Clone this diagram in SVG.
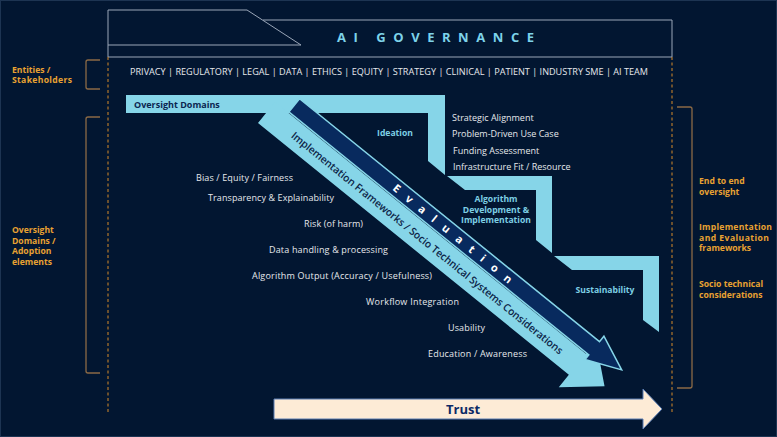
<svg xmlns="http://www.w3.org/2000/svg" width="777" height="437" viewBox="0 0 777 437">
<style>
.bg{fill:#021631;stroke:#1d3452;stroke-width:1}
.hdr{fill:none;stroke:#9aa6b8;stroke-width:1}
.dash{fill:none;stroke:#d68a2a;stroke-width:1;stroke-dasharray:3 2.5}
.brk{fill:none;stroke:#8c6a45;stroke-width:1.3}
.lbl{font-family:"Open Sans","Noto Sans",sans-serif;font-weight:700;font-size:8.6px;fill:#e9a232}
.wt{font-family:"Open Sans","Noto Sans",sans-serif;font-size:9px;fill:#e6e8ec}
.sl{font-family:"Open Sans","Noto Sans",sans-serif;font-weight:700;font-size:8.6px;fill:#7dcfe4}
.lb{fill:#86d5e8}
.dk{fill:#082a5e;stroke:#86d5e8;stroke-width:1.5}
</style>
<rect class="bg" x="0.5" y="0.5" width="776" height="436"/>

<g id="header">
<path class="hdr" d="M108,57 V10 H247 L301,45 H108"/>
<path class="hdr" d="M263,20 H672 V57 H108"/>
<text x="337" y="42" textLength="203" lengthAdjust="spacing" style="font-family:'Open Sans','Noto Sans',sans-serif;font-weight:700;font-size:13px;fill:#7dd3ea;letter-spacing:6px">AI  GOVERNANCE</text>
</g>

<g id="guides">
<path class="dash" d="M108,57 V414"/>
<path class="dash" d="M672,57 V414"/>
</g>

<g id="stakeholders">
<text class="wt" x="130" y="74.5" textLength="518" lengthAdjust="spacingAndGlyphs">PRIVACY | REGULATORY | LEGAL | DATA | ETHICS | EQUITY | STRATEGY | CLINICAL | PATIENT | INDUSTRY SME | AI TEAM</text>
</g>

<g id="left-labels">
<path class="brk" d="M100,60 H88 Q86,60 86,62 V87 Q86,89 88,89 H100"/>
<text class="lbl" x="12" y="72.5">Entities /</text>
<text class="lbl" x="12" y="83.2" textLength="60">Stakeholders</text>
<path class="brk" d="M100,117 H88 Q86,117 86,119 V371 Q86,373 88,373 H100"/>
<text class="lbl" x="12" y="233">Oversight</text>
<text class="lbl" x="12" y="243.7">Domains /</text>
<text class="lbl" x="12" y="254.4">Adoption</text>
<text class="lbl" x="12" y="265.1">elements</text>
</g>

<g id="right-labels">
<path class="brk" d="M677,107 H690 Q692,107 692,109 V386 Q692,388 690,388 H677"/>
<text class="lbl" x="699" y="184">End to end</text>
<text class="lbl" x="699" y="194.7">oversight</text>
<text class="lbl" x="699" y="230" textLength="73">Implementation</text>
<text class="lbl" x="699" y="240.7" textLength="70">and Evaluation</text>
<text class="lbl" x="699" y="251.4">frameworks</text>
<text class="lbl" x="699" y="287">Socio technical</text>
<text class="lbl" x="699" y="297.7">considerations</text>
</g>

<g id="stairs">
<polygon class="lb" points="126,95 445,95 445,175 428,161 428,113 126,113"/>
<polygon class="lb" points="447,176 552,176 552,253 536,240 536,190 465,190"/>
<polygon class="lb" points="554,256 659,256 659,332 643,320 643,270 572,270"/>
<text x="134" y="108" style="font-family:'Open Sans','Noto Sans',sans-serif;font-weight:700;font-size:9px;fill:#0b2550">Oversight Domains</text>
<text class="sl" x="395" y="136" text-anchor="middle">Ideation</text>
<text class="sl" x="496" y="202" text-anchor="middle">Algorithm</text>
<text class="sl" x="496" y="212.7" text-anchor="middle">Development &amp;</text>
<text class="sl" x="496" y="223.4" text-anchor="middle">Implementation</text>
<text class="sl" x="605" y="292.5" text-anchor="middle">Sustainability</text>
</g>

<g id="ideation-items">
<text class="wt" x="452" y="120.5">Strategic Alignment</text>
<text class="wt" x="452" y="137">Problem-Driven Use Case</text>
<text class="wt" x="453" y="154">Funding Assessment</text>
<text class="wt" x="453" y="169.5">Infrastructure Fit / Resource</text>
</g>

<g id="oversight-items">
<text class="wt" x="196" y="180.5" textLength="97">Bias / Equity / Fairness</text>
<text class="wt" x="208" y="200.5" textLength="126">Transparency &amp; Explainability</text>
<text class="wt" x="304" y="226.5" textLength="59">Risk (of harm)</text>
<text class="wt" x="269" y="252.5" textLength="119">Data handling &amp; processing</text>
<text class="wt" x="252" y="278.5" textLength="180">Algorithm Output (Accuracy / Usefulness)</text>
<text class="wt" x="366" y="305" textLength="93">Workflow Integration</text>
<text class="wt" x="448" y="330.5" textLength="37">Usability</text>
<text class="wt" x="428" y="356.5" textLength="99">Education / Awareness</text>
</g>

<g id="connectors">
<g transform="translate(258,123) rotate(39)">
<polygon id="impl-arrow" class="lb" points="0,0 400,0 400,16 435,-13.5 400,-43 400,-27 0,-27"/>
<polygon id="eval-arrow" class="dk" points="17,-28 403,-28 403,-22 438,-37 403,-52 403,-45 17,-45"/>
<text x="34" y="-9.5" textLength="346" lengthAdjust="spacingAndGlyphs" style="font-family:'Open Sans','Noto Sans',sans-serif;font-weight:600;font-size:10.5px;fill:#0c2447">Implementation Frameworks / Socio Technical Systems Considerations</text>
<text x="146" y="-32.5" textLength="150" lengthAdjust="spacing" style="font-family:'Open Sans','Noto Sans',sans-serif;font-weight:700;font-size:11px;fill:#ffffff">Evaluation</text>
</g>
<g id="trust">
<polygon points="274,399 643,399 643,389 662,409 643,429 643,419 274,419" style="fill:#fdebd6;stroke:#5b7db3;stroke-width:1"/>
<text x="463" y="413.5" text-anchor="middle" style="font-family:'Open Sans','Noto Sans',sans-serif;font-weight:700;font-size:13px;fill:#0d2a66">Trust</text>
</g>
</g>
</svg>
